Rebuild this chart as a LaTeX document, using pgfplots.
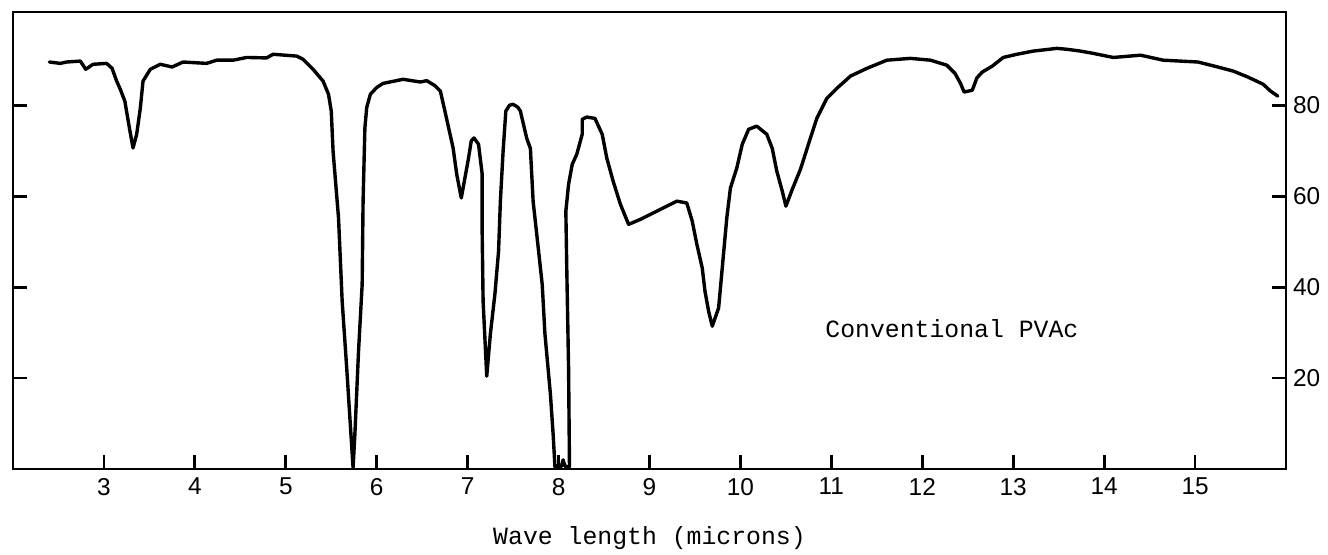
\documentclass[border=0pt]{standalone}
\usepackage{fontspec}
\setmainfont{Liberation Mono}
\newfontfamily\ticksans{Liberation Sans}
\usepackage{pgfplots}
\pgfplotsset{compat=1.18}

\begin{document}
\begin{tikzpicture}
\useasboundingbox (-6.5pt,-43pt) rectangle (657.5pt,234.5pt);
\begin{axis}[
  at={(0,0)}, anchor=south west,
  width=636.5pt, height=228.5pt, scale only axis,
  xmin=2, xmax=16, ymin=0, ymax=100.5,
  axis line style={line width=1.4pt},
  xtick={3,...,15}, ytick={20,40,60,80},
  xtick pos=bottom, ytick pos=both, yticklabel pos=right,
  tick align=inside,
  major tick length=7pt,
  tick style={line width=1.4pt, black},
  ticklabel style={font=\ticksans\fontsize{12.2}{13}\selectfont,
    /pgf/number format/assume math mode=true},
  xticklabel style={yshift=-1pt},
  xlabel={Wave length (microns)},
  xlabel style={font=\fontsize{12.4}{14}\selectfont,
    at={(rel axis cs:0.5,0)}, anchor=center, yshift=-34.5pt},
]
\addplot[black, line width=1.7pt, line join=round, line cap=round, no marks] coordinates {
(2.40,89.5) (2.52,89.2) (2.59,89.5) (2.74,89.7) (2.80,87.9) (2.88,89.0)
(3.03,89.2) (3.09,88.1) (3.14,85.3) (3.18,83.5) (3.23,80.9) (3.28,75.0)
(3.32,70.6) (3.36,73.6) (3.40,79.3) (3.43,85.3) (3.51,87.9) (3.62,89.0)
(3.75,88.4) (3.87,89.5) (4.13,89.2) (4.24,89.9) (4.42,89.9) (4.57,90.5)
(4.79,90.4) (4.86,91.2) (5.12,90.8) (5.19,90.1) (5.30,87.9) (5.41,85.3)
(5.47,82.4) (5.50,78.7) (5.52,69.9) (5.58,55.2) (5.62,36.9) (5.67,22.2)
(5.74,0.3) (5.76,7.7) (5.80,25.9) (5.84,40.6) (5.85,58.9) (5.87,75.0)
(5.89,79.5) (5.93,82.4) (6.00,83.9) (6.07,84.8) (6.29,85.7) (6.48,85.1)
(6.55,85.4) (6.64,84.3) (6.70,83.1) (6.75,78.7) (6.84,70.6) (6.88,64.8)
(6.93,59.6) (6.97,64.0) (7.01,68.4) (7.04,72.2) (7.07,72.8) (7.12,71.4)
(7.16,64.8) (7.16,51.6) (7.17,36.9) (7.21,20.4) (7.25,29.7) (7.30,38.5)
(7.34,47.9) (7.36,58.9) (7.39,69.9) (7.42,78.7) (7.46,80.0) (7.50,80.2)
(7.55,79.6) (7.58,78.7) (7.65,72.7) (7.69,70.5) (7.72,58.9) (7.76,51.6)
(7.82,40.6) (7.85,29.7) (7.91,16.5) (7.94,7.7) (7.96,0.5) (8.00,0.8)
(8.03,0.6) (8.05,2.0) (8.07,0.6) (8.12,0.5) (8.11,22.2) (8.09,44.2)
(8.08,56.7) (8.11,62.6) (8.15,67.0) (8.20,69.2) (8.26,73.6) (8.26,76.9)
(8.31,77.4) (8.40,77.1) (8.48,73.6) (8.53,68.4) (8.60,63.3) (8.68,58.2)
(8.77,53.8) (8.90,54.9) (9.08,56.7) (9.30,58.9) (9.41,58.5) (9.47,54.5)
(9.52,49.5) (9.58,44.2) (9.61,39.1) (9.65,34.7) (9.69,31.4) (9.76,35.4)
(9.80,44.2) (9.85,55.2) (9.89,61.8) (9.96,66.2) (10.02,71.4) (10.09,74.7)
(10.18,75.4) (10.29,73.6) (10.35,70.5) (10.40,65.5) (10.46,61.1) (10.50,57.8)
(10.57,61.5) (10.66,65.9) (10.77,72.8) (10.84,77.1) (10.95,81.5) (11.06,83.7)
(11.21,86.4) (11.39,88.1) (11.61,89.9) (11.87,90.3) (12.09,89.9) (12.27,88.8)
(12.36,87.0) (12.42,84.8) (12.46,82.9) (12.55,83.3) (12.60,86.0) (12.66,87.3)
(12.77,88.6) (12.89,90.5) (13.04,91.2) (13.22,91.9) (13.48,92.5) (13.59,92.3)
(13.74,91.9) (13.88,91.4) (14.10,90.5) (14.40,91.0) (14.65,89.9) (15.03,89.5)
(15.25,88.4) (15.42,87.5) (15.58,86.2) (15.75,84.6) (15.83,83.1) (15.91,82.0)
};
\node[anchor=west, inner sep=0pt, font=\fontsize{12.4}{14}\selectfont]
  at (axis cs:10.93,30.8) {Conventional PVAc};
\end{axis}
\end{tikzpicture}
\end{document}
